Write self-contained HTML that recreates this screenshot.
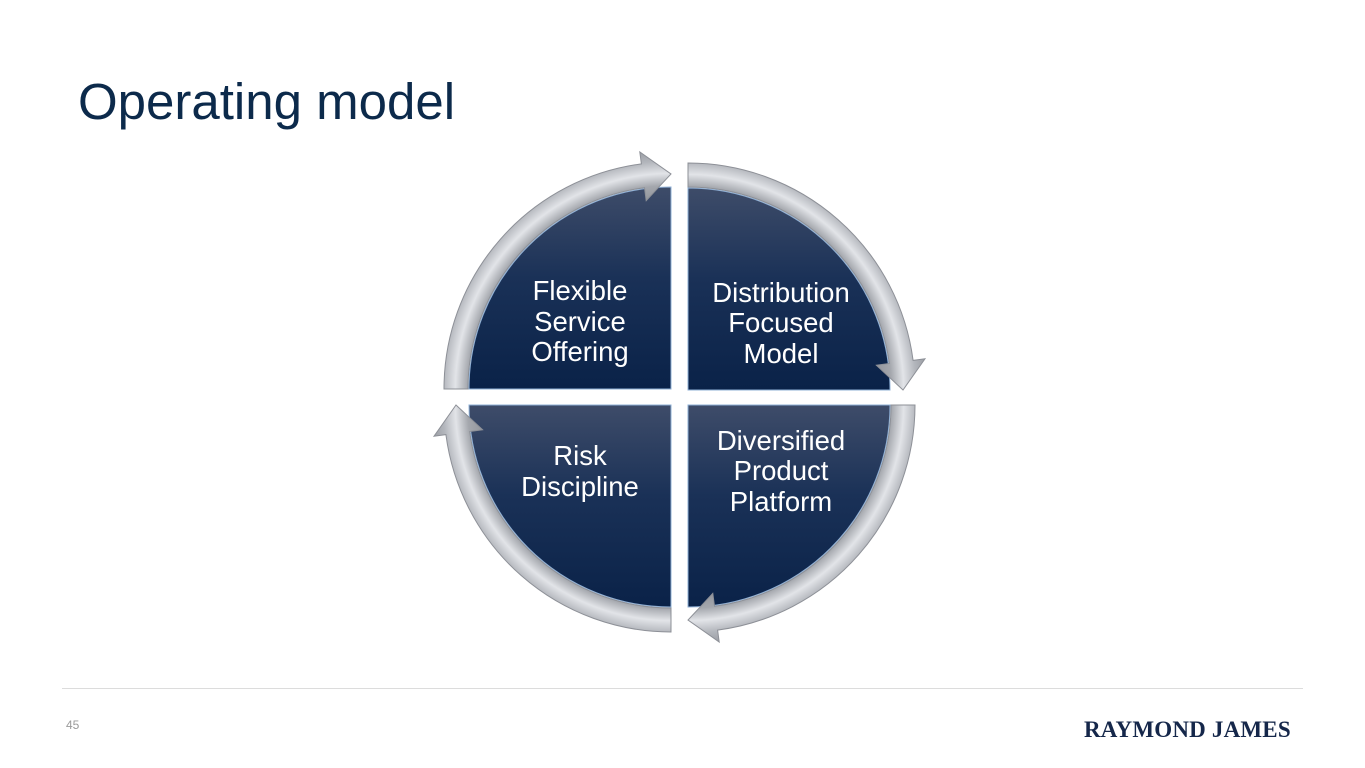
<!DOCTYPE html>
<html><head><meta charset="utf-8"><style>
html,body{margin:0;padding:0;background:#fff;}
body{width:1365px;height:768px;position:relative;overflow:hidden;font-family:"Liberation Sans",Arial,sans-serif;}
.title{position:absolute;left:78px;top:72px;font-size:51px;color:#0c2a4b;}
.line{position:absolute;left:62px;top:688px;width:1241px;height:1px;background:#dcdcdc;}
.pg{position:absolute;left:66px;top:718px;font-size:12px;color:#9a9a9a;}
.logo{position:absolute;left:1084px;top:717px;font-family:"Liberation Serif",serif;font-weight:bold;font-size:23px;color:#15274a;letter-spacing:0.2px;}
svg{position:absolute;left:0;top:0;}
</style></head><body>
<div class="title">Operating model</div>
<svg width="1365" height="768" id="s">
<defs id="defs">
<linearGradient id="q" x1="0" y1="0" x2="0" y2="1">
<stop offset="0" stop-color="#3e4c69"/><stop offset="0.45" stop-color="#1a3157"/><stop offset="1" stop-color="#0a2248"/></linearGradient>
</defs>
<g id="qs"></g><g id="rs"></g>
<g fill="#fff" font-size="27.5" text-anchor="middle" font-family="Liberation Sans, Arial, sans-serif">
<text x="580" y="300">Flexible</text><text x="580" y="331">Service</text><text x="580" y="361">Offering</text>
<text x="781" y="302">Distribution</text><text x="781" y="332">Focused</text><text x="781" y="363">Model</text>
<text x="580" y="465">Risk</text><text x="580" y="496">Discipline</text>
<text x="781" y="450">Diversified</text><text x="781" y="480">Product</text><text x="781" y="511">Platform</text>
</g>
</svg>
<script>
var ns="http://www.w3.org/2000/svg";
function P(cx,cy,r,a){a=a*Math.PI/180;return (cx+r*Math.cos(a)).toFixed(1)+","+(cy+r*Math.sin(a)).toFixed(1);}
var quads=[[671,389,180],[688,390,270],[688,405,0],[671,405,90]];
var qs=document.getElementById("qs"),rs=document.getElementById("rs"),defs=document.getElementById("defs");
quads.forEach(function(q,i){
 var cx=q[0],cy=q[1],a=q[2],r=202;
 var p=document.createElementNS(ns,"path");
 p.setAttribute("d","M"+cx+","+cy+" L"+P(cx,cy,r,a)+" A"+r+","+r+" 0 0 1 "+P(cx,cy,r,a+90)+" Z");
 p.setAttribute("fill","url(#q)");p.setAttribute("stroke","#8fb0d6");p.setAttribute("stroke-width","1");
 qs.appendChild(p);
 var rg=document.createElementNS(ns,"radialGradient");
 rg.setAttribute("id","rg"+i);rg.setAttribute("gradientUnits","userSpaceOnUse");
 rg.setAttribute("cx",cx);rg.setAttribute("cy",cy);rg.setAttribute("r",245);
 [[0.76,"#8e9198"],[0.83,"#a4a7ad"],[0.88,"#e2e4e8"],[0.93,"#b3b6bc"],[1,"#8e9198"]].forEach(function(s){
  var st=document.createElementNS(ns,"stop");st.setAttribute("offset",s[0]);st.setAttribute("stop-color",s[1]);rg.appendChild(st);});
 defs.appendChild(rg);
 var ri=203,ro=227,rm=215,b=a+90-7.5;
 var d="M"+P(cx,cy,ro,a)+" A"+ro+","+ro+" 0 0 1 "+P(cx,cy,ro,b)+" L"+P(cx,cy,ro+12,b)+" L"+P(cx,cy,rm,a+90)+" L"+P(cx,cy,ri-13,b)+" L"+P(cx,cy,ri,b)+" A"+ri+","+ri+" 0 0 0 "+P(cx,cy,ri,a)+" Z";
 var g=document.createElementNS(ns,"path");
 g.setAttribute("d",d);g.setAttribute("fill","url(#rg"+i+")");g.setAttribute("stroke","#8d9097");g.setAttribute("stroke-width","1");
 rs.appendChild(g);
});
</script>
<div class="line"></div>
<div class="pg">45</div>
<div class="logo">RAYMOND JAMES</div>
</body></html>
